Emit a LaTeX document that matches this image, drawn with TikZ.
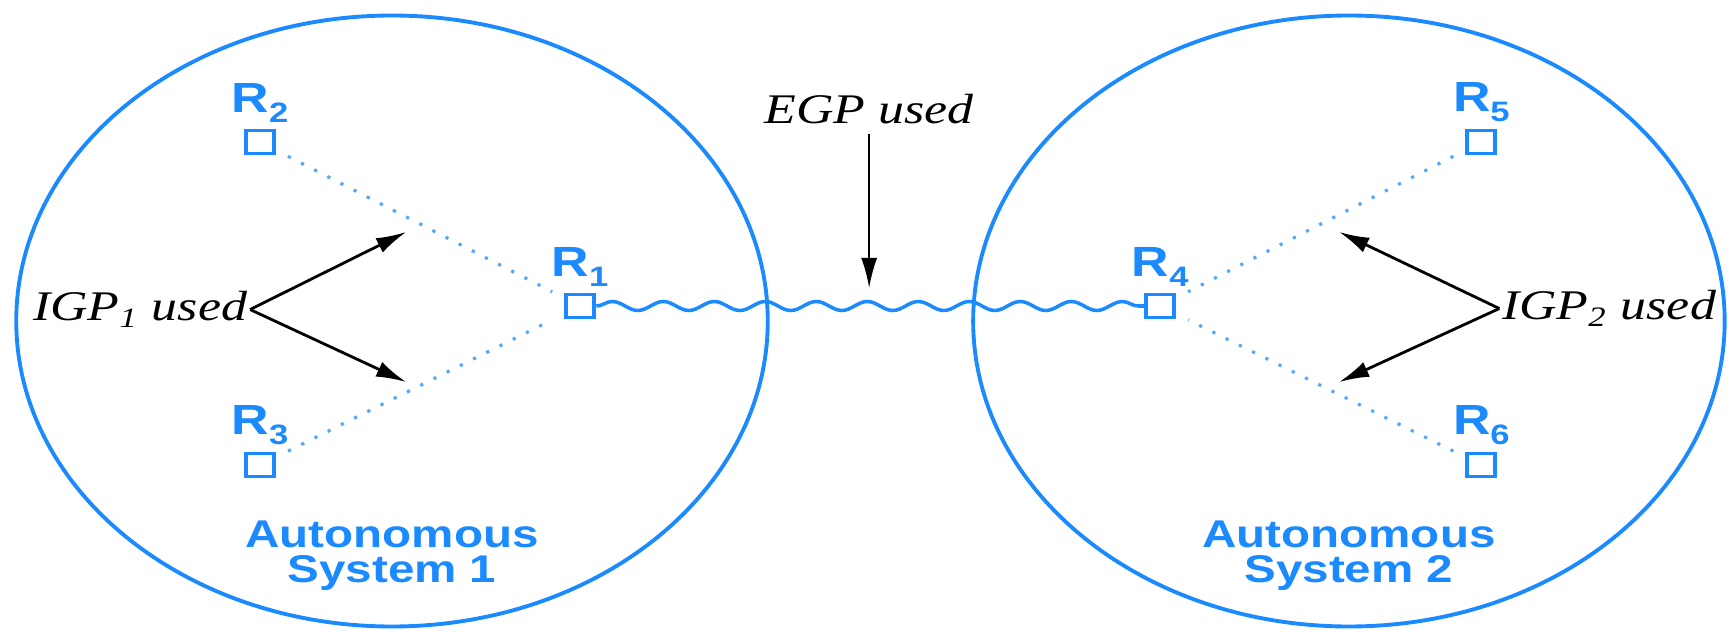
\documentclass[tikz,border=0pt]{standalone}
\usepackage{amsmath}
\usepackage{amssymb}
\usepackage{fontspec}
\setmainfont{Liberation Serif}
\newfontfamily\asfont{Liberation Sans}
\usetikzlibrary{positioning,arrows.meta,decorations.pathmorphing}
\definecolor{asblue}{RGB}{28,138,255}
\newcommand{\rsub}[1]{\raisebox{-.45ex}{\fontsize{8}{8}\selectfont #1}}
\tikzset{
  rbox/.style={draw=asblue,line width=1pt,minimum width=2.3mm,minimum height=2.3mm,inner sep=0pt},
  rname/.style={text=asblue,font=\asfont\bfseries\fontsize{12}{14}\selectfont,inner sep=0pt},
  asname/.style={text=asblue,font=\asfont\bfseries\fontsize{11}{10}\selectfont,align=center,inner sep=0pt},
  proto/.style={font=\itshape\fontsize{12}{14}\selectfont,inner sep=.5pt},
  igp/.style={asblue!75,line width=.9pt,dash pattern=on .9pt off 3.3pt,shorten <=1.3mm,shorten >=1.3mm},
  egp/.style={asblue,line width=1pt,decorate,decoration={snake,segment length=5.1mm,amplitude=.45mm}},
  pointer/.style={-{Latex[length=3mm,width=1.6mm]},line width=.8pt},
}

\begin{document}
\begin{tikzpicture}[xscale=1.23,every node/.append style={transform shape}]
\useasboundingbox (0,0) rectangle (14.106,-6.32);
% the two systems
\draw[asblue,line width=1.1pt] (3.187,-3.21) circle (3.055);
\draw[asblue,line width=1.1pt] (10.967,-3.21) circle (3.055);
\path
(4.715,-3.06) node[rbox] (r1) {}
(2.114,-1.42) node[rbox] (r2) {}
(2.114,-4.65) node[rbox] (r3) {}
(9.431,-3.06) node[rbox] (r4) {}
(12.041,-1.42) node[rbox] (r5) {}
(12.041,-4.65) node[rbox] (r6) {};
\node[rname,above=.6mm of r1] (n1) {R\rsub{1}};
\node[rname,above=.6mm of r2] (n2) {R\rsub{2}};
\node[rname,above=.6mm of r3] (n3) {R\rsub{3}};
\node[rname,above=.6mm of r4] (n4) {R\rsub{4}};
\node[rname,above=.6mm of r5] (n5) {R\rsub{5}};
\node[rname,above=.6mm of r6] (n6) {R\rsub{6}};
\node[asname,anchor=north] (as1) at (3.187,-5.2) {Autonomous\\System 1};
\node[asname,anchor=north] (as2) at (10.967,-5.2) {Autonomous\\System 2};
% links
\draw[igp] (r2) -- (r1);
\draw[igp] (r3) -- (r1);
\draw[igp] (r5) -- (r4);
\draw[igp] (r6) -- (r4);
\draw[egp] (r1) -- (r4);
% labels
\node[proto,anchor=base east] (igp1) at (2.033,-3.21) {IGP\textsubscript{1} used};
\node[proto,anchor=base west] (igp2) at (12.187,-3.20) {IGP\textsubscript{2} used};
\node[proto] (egpl) at (7.065,-1.09) {EGP used};
\coordinate (a1) at (3.301,-2.32);
\coordinate (a2) at (3.301,-3.82);
\coordinate (a3) at (10.886,-2.32);
\coordinate (a4) at (10.886,-3.82);
\coordinate (a5) at (7.065,-2.88);
\draw[pointer] (igp1.east) -- (a1);
\draw[pointer] (igp1.east) -- (a2);
\draw[pointer] (igp2.west) -- (a3);
\draw[pointer] (igp2.west) -- (a4);
\draw[pointer,line width=.6pt,shorten <=.8mm] (egpl.south) -- (a5);
%\draw[help lines] (0,0) grid (14,-6);
\end{tikzpicture}
\end{document}
